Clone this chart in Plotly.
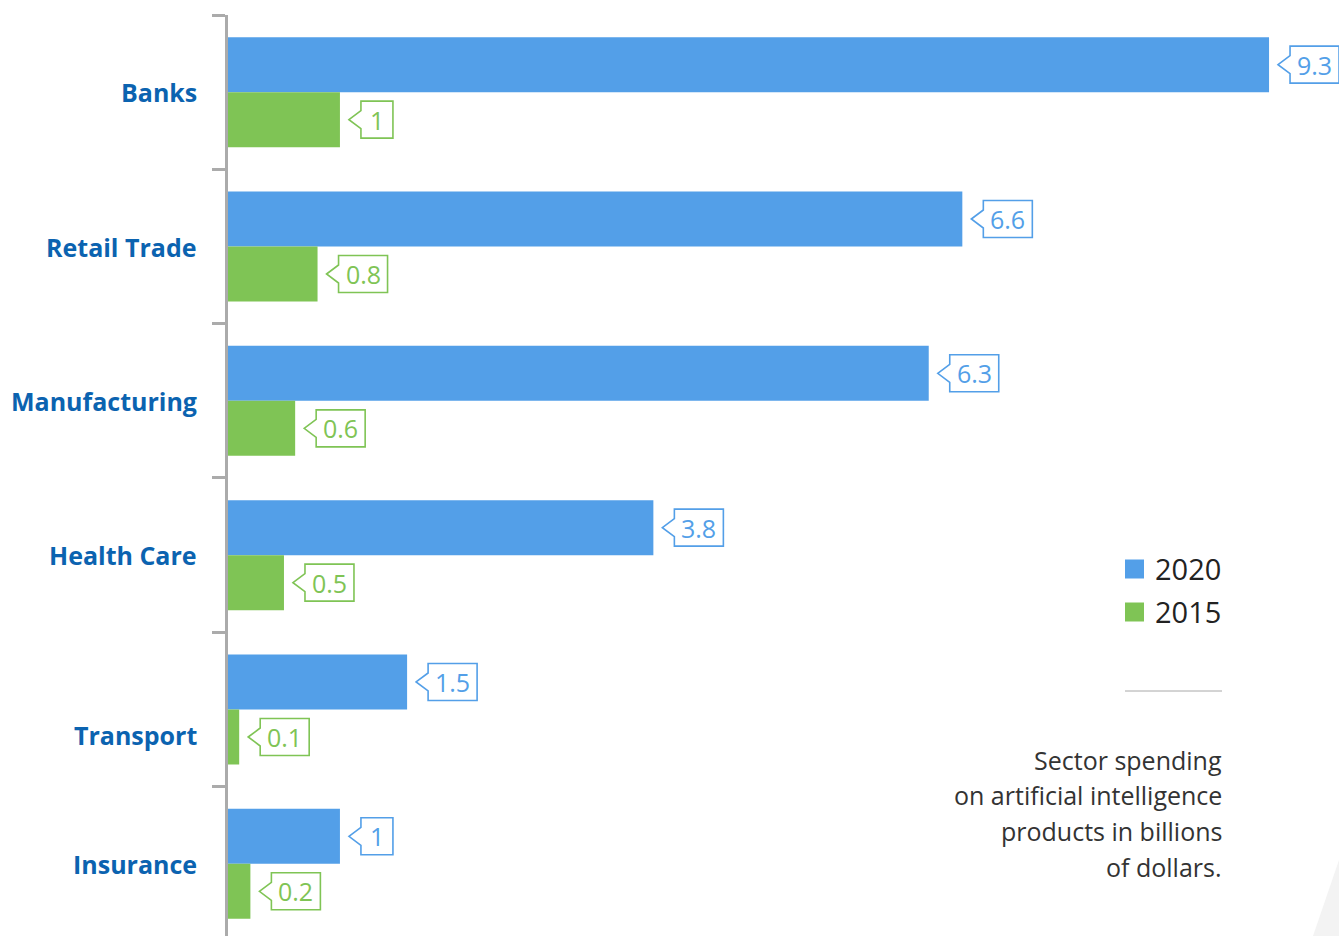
import plotly.graph_objects as go

# ---- data ----
categories = ["Banks", "Retail Trade", "Manufacturing", "Health Care", "Transport", "Insurance"]
series_names = ["2020", "2015"]
values_2020 = [9.3, 6.56, 6.26, 3.8, 1.6, 1.0]
values_2015 = [1.0, 0.8, 0.6, 0.5, 0.1, 0.2]
labels_2020 = ["9.3", "6.6", "6.3", "3.8", "1.5", "1"]
labels_2015 = ["1", "0.8", "0.6", "0.5", "0.1", "0.2"]
note_lines = ["Sector spending", "on artificial intelligence", "products in billions", "of dollars."]

# ---- style ----
BLUE = "#539fe8"
GREEN = "#7fc455"
CAT_COLOR = "#0b63b0"
AXIS_GRAY = "#ababab"
FONT = "Open Sans"
W, H = 1339, 936
ML, MT = 228, 15
PLOT_W, PLOT_H = W - ML, H - MT
PX_PER_UNIT = 111.94
BAND_PX = 154.33
BARGAP = 0.287
label_yshift = [0, 0, 0, 0, -26, 0]

ypos = list(range(len(categories)))
half = (1 - BARGAP) / 4.0  # center offset of each bar in a group

fig = go.Figure()
fig.add_trace(go.Bar(y=ypos, x=values_2020, orientation="h", name=series_names[0],
                     marker=dict(color=BLUE, line=dict(width=0)), hoverinfo="skip"))
fig.add_trace(go.Bar(y=ypos, x=values_2015, orientation="h", name=series_names[1],
                     marker=dict(color=GREEN, line=dict(width=0)), hoverinfo="skip"))

shapes = []
annotations = []


def box_width(txt):
    nd = sum(c.isdigit() for c in txt)
    npt = sum(c == "." for c in txt)
    return 17 + 15 * nd + 2 * npt


GAP, ARW, NOTCH, BH = 9, 12, 9, 18.5
for vals, labs, color, sign in [(values_2020, labels_2020, BLUE, -1), (values_2015, labels_2015, GREEN, 1)]:
    for i, (v, t) in enumerate(zip(vals, labs)):
        yc = i + sign * half
        bw = box_width(t)
        x0 = GAP + ARW
        path = (f"M{GAP},0 L{x0},{NOTCH} L{x0},{BH} L{x0 + bw},{BH} "
                f"L{x0 + bw},{-BH} L{x0},{-BH} L{x0},{-NOTCH} Z")
        shapes.append(dict(type="path", xref="x", yref="y", xsizemode="pixel", ysizemode="pixel",
                           xanchor=v, yanchor=yc, path=path, fillcolor="white",
                           line=dict(color=color, width=1.6), layer="above"))
        annotations.append(dict(x=v, y=yc, xref="x", yref="y", text=t, showarrow=False,
                                xanchor="center", yanchor="middle", xshift=x0 + bw / 2,
                                font=dict(family=FONT, size=25, color=color)))

# category labels
for i, c in enumerate(categories):
    annotations.append(dict(x=0, y=i, xref="paper", yref="y", text=f"<b>{c}</b>", showarrow=False,
                            xanchor="right", yanchor="middle", xshift=-29, yshift=label_yshift[i],
                            font=dict(family=FONT, size=25, color=CAT_COLOR)))


def px(xp):
    return (xp - ML) / PLOT_W


def py(yp):
    return (H - yp) / PLOT_H


# custom legend
for name, color, yc in [(series_names[0], BLUE, 569), (series_names[1], GREEN, 612)]:
    shapes.append(dict(type="rect", xref="paper", yref="paper", x0=px(1125), x1=px(1144),
                       y0=py(yc + 9.5), y1=py(yc - 9.5), fillcolor=color, line=dict(width=0)))
    annotations.append(dict(x=px(1153), y=py(yc - 1), xref="paper", yref="paper", text=name,
                            showarrow=False, xanchor="left", yanchor="middle",
                            font=dict(family=FONT, size=29, color="#222222")))

# separator line
shapes.append(dict(type="line", xref="paper", yref="paper", x0=px(1125), x1=px(1222),
                   y0=py(691), y1=py(691), line=dict(color="#a8a8a8", width=1)))

# note text
for k, line in enumerate(note_lines):
    annotations.append(dict(x=px(1224), y=py(759.5 + 35.7 * k), xref="paper", yref="paper", text=line,
                            showarrow=False, xanchor="right", yanchor="middle",
                            font=dict(family=FONT, size=25, color="#333333")))

# faint decorative triangle bottom right
shapes.append(dict(type="path", xref="paper", yref="paper", layer="below",
                   path=f"M{px(1313)},{py(936)} L{px(1339)},{py(860)} L{px(1339)},{py(936)} Z",
                   fillcolor="#f3f3f3", line=dict(width=0)))

fig.update_layout(
    width=W, height=H,
    margin=dict(l=ML, r=0, t=MT, b=0, pad=0),
    paper_bgcolor="white", plot_bgcolor="white",
    barmode="group", bargap=BARGAP, bargroupgap=0,
    showlegend=False,
    xaxis=dict(range=[0, PLOT_W / PX_PER_UNIT], visible=False, fixedrange=True),
    yaxis=dict(range=[-0.5 + PLOT_H / BAND_PX, -0.5], tickvals=[-0.5, 0.5, 1.5, 2.5, 3.5, 4.5],
               showticklabels=False, ticks="outside", ticklen=13, tickwidth=3, tickcolor=AXIS_GRAY,
               showline=True, linecolor=AXIS_GRAY, linewidth=3, showgrid=False, zeroline=False,
               fixedrange=True),
    shapes=shapes, annotations=annotations,
)

fig.write_html("out.html")
